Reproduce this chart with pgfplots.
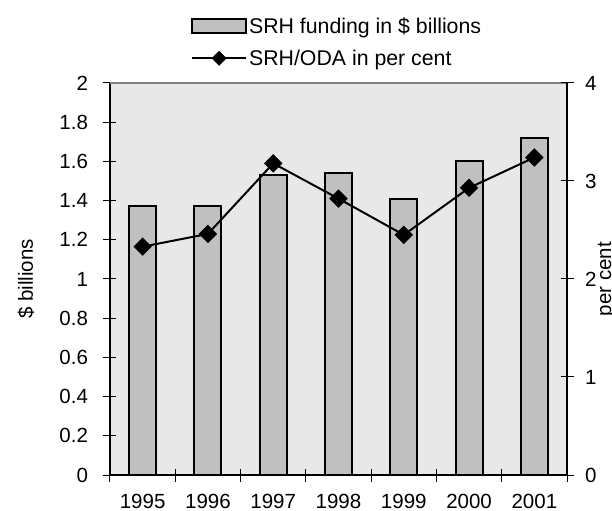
\documentclass[border=0pt]{standalone}
\usepackage{pgfplots}
\pgfplotsset{compat=1.18}
\usepackage{pgfplotstable}
\usepackage{fontspec}
\setmainfont{Liberation Sans}

\definecolor{plotbg}{RGB}{232,232,232}
\definecolor{barfill}{RGB}{192,192,192}
\newcommand\fsz{\fontsize{20.5bp}{24bp}\selectfont}
\newcommand\lsz{\fontsize{21.3bp}{25bp}\selectfont}

% Funding (left axis) and share of ODA (right axis), 1995-2001
\pgfplotstableread{
idx funding share
0 1.37 2.33
1 1.37 2.46
2 1.53 3.18
3 1.54 2.82
4 1.41 2.45
5 1.60 2.93
6 1.72 3.24
}\srhdata

\pgfplotsset{
  common/.style={
    at={(0,0)}, anchor=south west,
    scale only axis, width=457bp, height=392bp,
    xmin=-0.5, xmax=6.5,
    axis line style={-, line width=1.2bp},
    tick align=center, major tick length=13bp,
    tick style={black, line width=1bp},
    tick label style={font=\fsz},
  },
  barlegend/.style={legend image code/.code={%
    \draw[##1] (0bp,-7bp) rectangle (54bp,7bp);}},
  linelegend/.style={legend image code/.code={%
    \draw[##1, mark size=4.3bp, mark repeat=2, mark phase=2]
      plot coordinates {(0bp,0bp) (27bp,0bp) (54bp,0bp)};}},
}

\begin{document}
\begin{tikzpicture}
\begin{axis}[
  common,
  ymin=0, ymax=2,
  axis x line*=bottom, axis y line*=left,
  axis background/.style={fill=plotbg},
  xtick={-0.5,0.5,...,6.5},
  xticklabels={{},{},{},{},{},{},{},{}},
  extra x ticks={0,1,2,3,4,5,6},
  extra x tick labels={1995,1996,1997,1998,1999,2000,2001},
  extra x tick style={major tick length=0pt},
  xticklabel style={yshift=-15.5bp},
  ytick={0,0.2,...,2},
  yticklabels={0,0.2,0.4,0.6,0.8,1,1.2,1.4,1.6,1.8,2},
  yticklabel style={xshift=-12bp},
  ylabel={\$ billions},
  every axis y label/.style={at={(rel axis cs:0,0.5)}, rotate=90,
    anchor=base, yshift=77bp, font=\fsz},
]
\addplot[ybar, bar width=27bp, fill=barfill, draw=black, line width=2bp]
  table[x=idx, y=funding] {\srhdata};
\draw[gray, line width=1.2bp] (rel axis cs:0,1) -- (rel axis cs:1,1);
\end{axis}

\begin{axis}[
  common,
  ymin=0, ymax=4,
  axis x line=none, axis y line*=right,
  ytick={0,1,2,3,4},
  yticklabels={0,1,2,3,4},
  yticklabel style={xshift=8bp},
  ylabel={per cent},
  every axis y label/.style={at={(rel axis cs:1,0.5)}, rotate=90,
    anchor=base, yshift=-44bp, font=\fsz},
  legend cell align=left,
  legend style={at={(rel axis cs:0.177,1.1725)}, anchor=north west,
    draw=none, fill=none, font=\lsz, inner sep=0pt, row sep=11bp},
]
\addlegendimage{fill=barfill, draw=black, line width=2bp, barlegend}
\addlegendentry{SRH funding in \$ billions}
\addplot[black, line width=2bp, mark=square*, mark size=5.5bp,
  mark options={rotate=45, solid}, linelegend]
  table[x=idx, y=share] {\srhdata};
\addlegendentry{SRH/ODA in per cent}
\end{axis}

\pgfresetboundingbox
\path[use as bounding box] (-110bp,-36bp) rectangle (502bp,475bp);
\end{tikzpicture}
\end{document}
